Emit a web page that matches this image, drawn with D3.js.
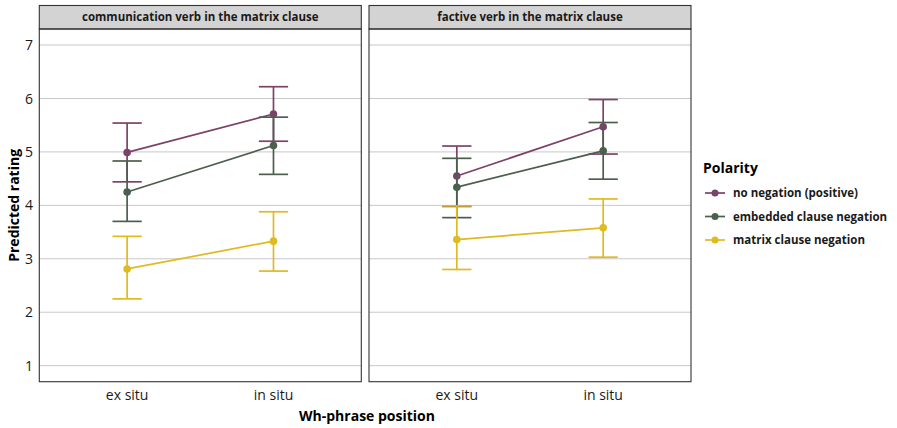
<!DOCTYPE html>
<html>
<head>
<meta charset="utf-8">
<script src="https://cdn.jsdelivr.net/npm/d3@7/dist/d3.min.js"></script>
<style>
  html, body { margin: 0; padding: 0; background: #fff; }
  svg { display: block; font-family: "Open Sans", "Noto Sans", sans-serif; }
</style>
</head>
<body>
<svg id="chart" width="897" height="428"></svg>
<script>
// Facets, x categories and polarity groups
const facets = ["communication verb in the matrix clause", "factive verb in the matrix clause"];
const positions = ["ex situ", "in situ"];
const polarities = ["no negation (positive)", "embedded clause negation", "matrix clause negation"];
const polarityColors = ["#7b4369", "#4b5f4d", "#dfba21"];
const yTicks = [1, 2, 3, 4, 5, 6, 7];

// Predicted ratings [ex situ, in situ] per facet and polarity
const commEstimate = [[4.99, 5.71], [4.25, 5.12], [2.81, 3.33]];
const commLower    = [[4.44, 5.20], [3.70, 4.58], [2.25, 2.77]];
const commUpper    = [[5.54, 6.22], [4.83, 5.65], [3.42, 3.88]];

const factEstimate = [[4.55, 5.47], [4.34, 5.02], [3.36, 3.58]];
const factLower    = [[3.98, 4.96], [3.77, 4.49], [2.80, 3.03]];
const factUpper    = [[5.11, 5.98], [4.88, 5.55], [3.99, 4.12]];

const panelData = [
  { est: commEstimate, lo: commLower, hi: commUpper },
  { est: factEstimate, lo: factLower, hi: factUpper }
];

const svg = d3.select("#chart");

const panelTop = 29, panelBottom = 381.7;
const stripTop = 5.5;
const panelLefts = [39.3, 369];
const panelWidth = 322;

const y = d3.scaleLinear().domain([0.7, 7.3]).range([panelBottom, panelTop]);
// discrete positions 1 and 2 with a 0.6 expansion on each side
const xIdx = d3.scaleLinear().domain([0.4, 2.6]).range([0, panelWidth]);
const capHalf = 0.1;

facets.forEach((facet, fi) => {
  const left = panelLefts[fi];
  const g = svg.append("g").attr("transform", `translate(${left},0)`);

  // strip
  g.append("rect")
    .attr("x", 0).attr("y", stripTop)
    .attr("width", panelWidth).attr("height", panelTop - stripTop)
    .attr("fill", "#d3d3d3").attr("stroke", "#333").attr("stroke-width", 1.1);
  g.append("text")
    .attr("x", panelWidth / 2).attr("y", (stripTop + panelTop) / 2)
    .attr("dy", "0.35em").attr("text-anchor", "middle")
    .attr("font-size", 11.5).attr("font-weight", "bold").attr("fill", "#1a1a1a")
    .text(facet);

  // grid
  g.append("g").selectAll("line").data(yTicks).join("line")
    .attr("x1", 0).attr("x2", panelWidth)
    .attr("y1", d => y(d)).attr("y2", d => y(d))
    .attr("stroke", "#c8c8c8").attr("stroke-width", 1);

  const pd = panelData[fi];
  polarities.forEach((pol, pi) => {
    const col = polarityColors[pi];
    const pts = positions.map((p, xi) => ({
      x: xIdx(xi + 1), est: pd.est[pi][xi], lo: pd.lo[pi][xi], hi: pd.hi[pi][xi], xi
    }));
    const eg = g.append("g");
    // error bars
    pts.forEach(p => {
      const xl = xIdx(p.xi + 1 - capHalf), xr = xIdx(p.xi + 1 + capHalf);
      eg.append("line").attr("x1", p.x).attr("x2", p.x)
        .attr("y1", y(p.lo)).attr("y2", y(p.hi))
        .attr("stroke", col).attr("stroke-width", 1.7);
      eg.append("line").attr("x1", xl).attr("x2", xr)
        .attr("y1", y(p.lo)).attr("y2", y(p.lo))
        .attr("stroke", col).attr("stroke-width", 1.7);
      eg.append("line").attr("x1", xl).attr("x2", xr)
        .attr("y1", y(p.hi)).attr("y2", y(p.hi))
        .attr("stroke", col).attr("stroke-width", 1.7);
    });
    // connecting line
    eg.append("path")
      .attr("d", d3.line().x(d => d.x).y(d => y(d.est))(pts))
      .attr("fill", "none").attr("stroke", col).attr("stroke-width", 1.7);
    eg.selectAll("circle").data(pts).join("circle")
      .attr("cx", d => d.x).attr("cy", d => y(d.est)).attr("r", 3.8)
      .attr("fill", col);
  });

  // panel border
  g.append("rect")
    .attr("x", 0).attr("y", panelTop)
    .attr("width", panelWidth).attr("height", panelBottom - panelTop)
    .attr("fill", "none").attr("stroke", "#333").attr("stroke-width", 1.1);

  // x axis labels
  g.append("g").selectAll("text").data(positions).join("text")
    .attr("x", (d, i) => xIdx(i + 1)).attr("y", 399.5)
    .attr("text-anchor", "middle").attr("font-size", 14).attr("fill", "#1a1a1a")
    .text(d => d);
});

// y axis labels
svg.append("g").selectAll("text").data(yTicks).join("text")
  .attr("x", 33).attr("y", d => y(d)).attr("dy", "0.36em")
  .attr("text-anchor", "end").attr("font-size", 14).attr("fill", "#1a1a1a")
  .text(d => d);

// axis titles
svg.append("text")
  .attr("x", 367).attr("y", 421)
  .attr("text-anchor", "middle").attr("font-size", 14).attr("font-weight", "bold")
  .attr("fill", "#000").text("Wh-phrase position");
svg.append("text")
  .attr("transform", `translate(19,${(panelTop + panelBottom) / 2}) rotate(-90)`)
  .attr("text-anchor", "middle").attr("font-size", 14).attr("font-weight", "bold")
  .attr("fill", "#000").text("Predicted rating");

// legend
const lg = svg.append("g").attr("transform", "translate(703,0)");
lg.append("text").attr("x", 0).attr("y", 168).attr("dy", "0.35em")
  .attr("font-size", 14).attr("font-weight", "bold").text("Polarity");
const legendY = [193, 216.5, 240];
polarities.forEach((pol, i) => {
  const ly = legendY[i];
  lg.append("line").attr("x1", 2).attr("x2", 22).attr("y1", ly).attr("y2", ly)
    .attr("stroke", polarityColors[i]).attr("stroke-width", 1.7);
  lg.append("circle").attr("cx", 12).attr("cy", ly).attr("r", 3.5).attr("fill", polarityColors[i]);
  lg.append("text").attr("x", 30).attr("y", ly).attr("dy", "0.35em")
    .attr("font-size", 11.5).attr("font-weight", "bold").attr("fill", "#1a1a1a").text(pol);
});
</script>
</body>
</html>
